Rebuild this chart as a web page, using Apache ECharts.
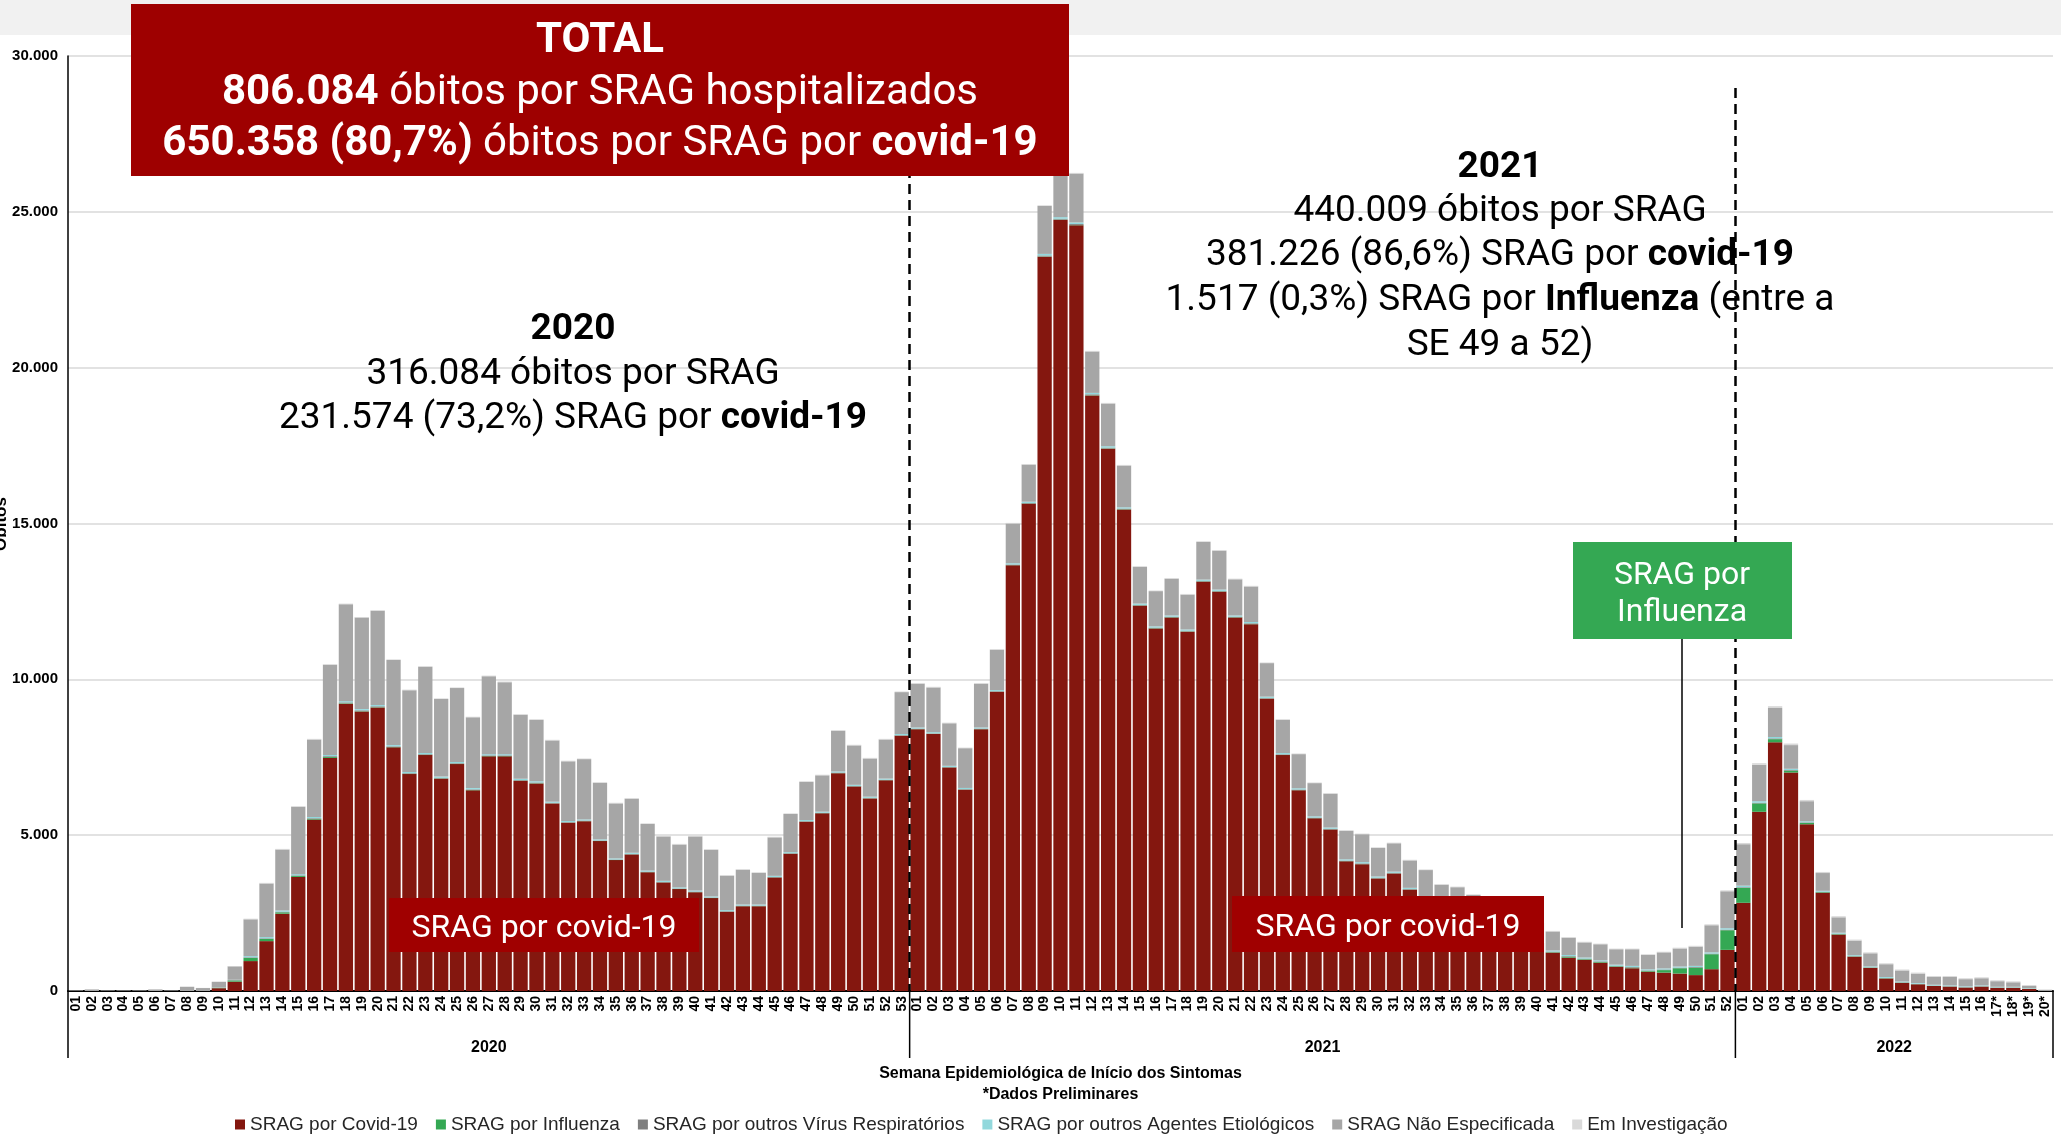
<!DOCTYPE html>
<html>
<head>
<meta charset="utf-8">
<script src="https://cdn.jsdelivr.net/npm/echarts@6/dist/echarts.min.js"></script>
<style>
  html, body { margin: 0; padding: 0; background: #fff; }
  #main { width: 2061px; height: 1139px; }
</style>
</head>
<body>
<div id="main"></div>
<script>
// semanas epidemiológicas 2020 (53), 2021 (52), 2022 (20)
var semanas2020 = ['01','02','03','04','05','06','07','08','09','10','11','12','13','14','15','16','17','18','19','20','21','22','23','24','25','26','27','28','29','30','31','32','33','34','35','36','37','38','39','40','41','42','43','44','45','46','47','48','49','50','51','52','53'];
var semanas2021 = ['01','02','03','04','05','06','07','08','09','10','11','12','13','14','15','16','17','18','19','20','21','22','23','24','25','26','27','28','29','30','31','32','33','34','35','36','37','38','39','40','41','42','43','44','45','46','47','48','49','50','51','52'];
var semanas2022 = ['01','02','03','04','05','06','07','08','09','10','11','12','13','14','15','16','17*','18*','19*','20*'];
var semanas = semanas2020.concat(semanas2021, semanas2022);

// óbitos SRAG por covid-19
var covid = [
    0,0,0,0,0,0,0,0,0,90, 300,960,1600,2480,3660,5500,7480,9220,8970,9100,
    7820,6960,7570,6810,7280,6440,7530,7530,6740,6660, 6020,5400,5450,4810,4200,4380,3810,3480,3270,3170,
    2980,2540,2720,2720,3640,4400,5430,5700,6990,6560, 6180,6760,8190,
    8400,8250,7170,6460,8400,9600,13660,15630,23560,24740, 24570,19110,17400,15450,12360,11630,11980,11530,13130,12810,
    11980,11770,9380,7570,6440,5540,5180,4160,4070,3610, 3770,3250,2950,2600,2500,2300,2150,2000,1800,1550,
    1230,1070,1000,910,770,730,620,590,560,510, 700,1320,
    2830,5750,7980,7010,5350,3150,1810,1100,740,400, 260,215,160,140,110,140,100,100,65,5
];
// total de óbitos por SRAG (topo da barra)
var total = [
    20,50,20,20,20,50,20,140,100,300, 800,2320,3470,4560,5930,8090,10490,12430,12000,12220,
    10640,9670,10420,9390,9740,8800,10120,9930,8880,8720, 8060,7390,7460,6700,6040,6190,5380,4980,4720,4980,
    4550,3720,3910,3810,4950,5700,6730,6940,8370,7900, 7480,8090,9610,
    9880,9760,8610,7810,9880,10970,15020,16910,25210,26400, 26250,20540,18870,16880,13630,12850,13250,12740,14430,14150,
    13230,13000,10540,8720,7620,6690,6350,5160,5050,4610, 4760,4210,3900,3430,3350,3100,2950,2700,2450,2200,
    1930,1730,1580,1520,1360,1360,1180,1260,1390,1450, 2140,3230,
    4750,7310,9140,7940,6130,3820,2400,1650,1240,890, 690,590,480,480,410,440,345,310,190,50
];
var influenza = [
    0,0,0,0,0,0,0,0,0,15, 40,100,70,45,30,25,30,15,10,10,
    10,10,10,10,10,10,10,10,10,10, 5,5,5,5,5,5,5,5,5,5,
    5,5,5,5,5,5,5,5,5,5, 5,5,5,
    5,5,5,5,5,5,5,10,10,10, 10,10,10,10,10,10,10,10,10,10,
    10,10,5,5,5,5,5,5,5,5, 5,5,5,5,5,5,5,5,10,10,
    15,30,20,20,20,20,20,80,170,240, 480,630,
    480,270,100,60,40,20,15,10,10,10, 10,5,5,5,5,5,5,5,5,0
];
var outrosVirus = [
    0,0,0,0,0,0,0,0,0,5, 10,20,20,20,20,20,25,25,25,25,
    20,20,20,20,20,20,20,20,20,20, 15,15,15,15,15,15,15,15,15,15,
    15,15,15,15,15,15,15,15,15,15, 15,15,15,
    15,15,15,15,15,15,20,20,30,30, 30,25,25,20,20,20,20,20,20,20,
    20,20,20,20,20,20,20,20,20,20, 20,20,20,20,20,20,20,20,20,20,
    20,20,20,20,20,20,20,20,20,20, 20,20,
    20,20,25,20,20,15,15,10,10,10, 10,10,10,10,10,10,10,10,5,0
];
var outrosAgentes = [
    0,0,0,0,0,0,0,0,0,5, 10,40,40,40,40,40,40,40,40,40,
    40,40,40,40,40,40,40,40,40,40, 35,35,35,35,35,35,35,35,35,35,
    35,35,35,35,35,35,35,35,35,35, 35,35,35,
    35,35,35,35,35,35,40,40,50,50, 50,45,45,40,40,40,40,40,40,40,
    40,40,40,40,40,40,40,40,40,40, 35,35,35,35,35,35,35,35,35,35,
    35,35,35,35,35,35,35,35,35,35, 40,45,
    50,50,45,40,35,30,30,30,30,30, 25,25,25,25,25,25,20,20,15,5
];
var emInvestigacao = [
    0,0,0,0,0,0,0,5,5,5, 10,20,20,20,20,20,20,20,20,20,
    20,20,20,20,20,20,20,20,20,20, 20,20,20,20,20,20,20,20,20,20,
    20,20,20,20,20,20,20,20,20,20, 20,20,20,
    20,20,20,20,20,20,20,20,20,20, 20,20,20,20,20,20,20,20,20,20,
    20,20,20,20,20,20,20,20,20,20, 20,20,20,20,20,20,20,20,20,20,
    20,20,20,20,20,20,20,20,25,25, 30,30,
    40,50,60,50,40,35,35,30,30,30, 30,30,30,30,30,30,30,30,30,40
];
// não especificada = resto até o topo lido da barra
var naoEspecificada = total.map(function (t, i) {
    var r = t - covid[i] - influenza[i] - outrosVirus[i] - outrosAgentes[i] - emInvestigacao[i];
    return r > 0 ? r : 0;
});
var anos = ['2020', '2021', '2022'];
var limitesAno = [0, 53, 105, 125];

var nomes = ['SRAG por Covid-19', 'SRAG por Influenza', 'SRAG por outros Vírus Respiratórios',
    'SRAG por outros Agentes Etiológicos', 'SRAG Não Especificada', 'Em Investigação'];
var cores = ['#84170f', '#34a853', '#7f7f7f', '#92d8dc', '#a6a6a6', '#d9d9d9'];
var series_data = [covid, influenza, outrosVirus, outrosAgentes, naoEspecificada, emInvestigacao];

var narrow = "'Liberation Sans Narrow', 'Liberation Sans', Arial, sans-serif";
var rob = "Roboto, 'Noto Sans', sans-serif";

function milhar(v) {
    return String(v).replace(/\B(?=(\d{3})+(?!\d))/g, '.');
}

var myChart = echarts.init(document.getElementById('main'));

var series = nomes.map(function (n, k) {
    return {
        name: n,
        type: 'bar',
        stack: 'obitos',
        barCategoryGap: '10%',
        itemStyle: { color: cores[k] },
        data: series_data[k]
    };
});
// linhas tracejadas de virada de ano
series.push({
    name: 'divisas',
    type: 'line',
    xAxisIndex: 1,
    yAxisIndex: 0,
    data: [],
    markLine: {
        silent: true,
        symbol: ['none', 'none'],
        label: { show: false },
        lineStyle: { type: [10, 6], color: '#000', width: 2.5 },
        data: [
            [{ coord: [53, 30000] }, { coord: [53, 0] }],
            [{ coord: [105, 28970] }, { coord: [105, 0] }]
        ]
    }
});

var option = {
    backgroundColor: '#fff',
    animation: false,
    grid: { left: 68, right: 8, top: 56, bottom: 148, outerBoundsMode: 'none', containLabel: false },
    legend: {
        data: nomes,
        left: 230,
        top: 1110,
        icon: 'rect',
        itemWidth: 10,
        itemHeight: 10,
        itemGap: 18,
        textStyle: { fontFamily: narrow, fontSize: 19, color: '#262626' }
    },
    xAxis: [{
        type: 'category',
        data: semanas,
        name: 'Semana Epidemiológica de Início dos Sintomas\n*Dados Preliminares',
        nameLocation: 'middle',
        nameGap: 72,
        nameMoveOverlap: false,
        nameTextStyle: { fontFamily: narrow, fontWeight: 'bold', fontSize: 16, color: '#000', lineHeight: 21 },
        axisLine: { lineStyle: { color: '#000', width: 2 } },
        axisTick: { show: false },
        axisLabel: {
            interval: 0,
            rotate: 90,
            margin: 5,
            fontFamily: 'Liberation Sans, Arial, sans-serif',
            fontWeight: 'bold',
            fontSize: 14,
            color: '#000'
        }
    }, {
        type: 'value',
        min: 0,
        max: 125,
        show: false
    }],
    yAxis: {
        type: 'value',
        min: 0,
        max: 30000,
        interval: 5000,
        axisLine: { show: true, lineStyle: { color: '#000', width: 1.5 } },
        axisTick: { show: false },
        splitLine: { lineStyle: { color: '#d9d9d9', width: 1.5 } },
        axisLabel: {
            margin: 10,
            fontFamily: narrow,
            fontWeight: 'bold',
            fontSize: 15,
            color: '#000',
            formatter: milhar
        }
    },
    series: series
};
myChart.setOption(option);

// anotações (caixas de texto)
function caixa(x, y, w, h, cor) {
    return { type: 'rect', z: 100, shape: { x: x, y: y, width: w, height: h }, style: { fill: cor } };
}
function texto(x, y, t, size, cor, extra) {
    var bold = { fontFamily: rob, fontWeight: 'bold', fontSize: size, fill: cor };
    var st = {
        text: t, x: x, y: y, fill: cor,
        fontFamily: rob, fontSize: size,
        align: 'center', textAlign: 'center',
        verticalAlign: 'middle', textVerticalAlign: 'middle',
        rich: { b: bold, n: { fontFamily: rob, fontSize: size, fill: cor } }
    };
    if (extra) { st.fontWeight = extra; }
    return { type: 'text', z: 101, style: st };
}

var g = [];
g.push({ type: 'rect', z: -1, shape: { x: 0, y: 0, width: 2061, height: 35 }, style: { fill: '#f1f1f1' } });

// nome do eixo y (cortado na borda, como no original)
g.push({
    type: 'text', z: 50, x: 1, y: 524, rotation: Math.PI / 2,
    style: {
        text: 'Óbitos', x: 0, y: 0,
        fontFamily: narrow, fontWeight: 'bold', fontSize: 17, fill: '#000',
        align: 'center', textAlign: 'center', verticalAlign: 'middle', textVerticalAlign: 'middle'
    }
});

// separadores de ano abaixo do eixo e rótulos de ano
var y0 = myChart.convertToPixel({ yAxisIndex: 0 }, 0);
var xs = limitesAno.map(function (v) { return myChart.convertToPixel({ xAxisIndex: 1 }, v); });
xs.forEach(function (x) {
    g.push({ type: 'line', z: 50, shape: { x1: x, y1: y0, x2: x, y2: y0 + 67 }, style: { stroke: '#000', lineWidth: 1.5 } });
});
anos.forEach(function (a, i) {
    g.push({
        type: 'text', z: 50,
        style: {
            text: a, x: (xs[i] + xs[i + 1]) / 2, y: y0 + 57,
            fontFamily: narrow, fontWeight: 'bold', fontSize: 16, fill: '#000',
            align: 'center', textAlign: 'center', verticalAlign: 'middle', textVerticalAlign: 'middle'
        }
    });
});

// caixa TOTAL
g.push(caixa(131, 4, 938, 172, '#9e0000'));
g.push(texto(600, 41, 'TOTAL', 42, '#fff', 'bold'));
g.push(texto(600, 93, '{b|806.084} óbitos por SRAG hospitalizados', 42, '#fff'));
g.push(texto(600, 144, '{b|650.358 (80,7%)} óbitos por SRAG por {b|covid-19}', 42, '#fff'));

// bloco 2020
g.push(texto(573, 330, '2020', 37, '#000', 'bold'));
g.push(texto(573, 375, '316.084 óbitos por SRAG', 37, '#000'));
g.push(texto(573, 419, '231.574 (73,2%) SRAG por {b|covid-19}', 37, '#000'));

// bloco 2021
g.push(texto(1500, 168, '2021', 37, '#000', 'bold'));
g.push(texto(1500, 212, '440.009 óbitos por SRAG', 37, '#000'));
g.push(texto(1500, 256, '381.226 (86,6%) SRAG por {b|covid-19}', 37, '#000'));
g.push(texto(1500, 301, '1.517 (0,3%) SRAG por {b|Influenza} (entre a', 37, '#000'));
g.push(texto(1500, 346, 'SE 49 a 52)', 37, '#000'));

// rótulos covid-19
g.push(caixa(389, 898, 310, 54, '#a00000'));
g.push(texto(544, 929, 'SRAG por covid-19', 32, '#fff'));
g.push(caixa(1232, 896, 312, 56, '#a00000'));
g.push(texto(1388, 928, 'SRAG por covid-19', 32, '#fff'));

// rótulo influenza
g.push({ type: 'line', z: 99, shape: { x1: 1682, y1: 639, x2: 1682, y2: 928 }, style: { stroke: '#000', lineWidth: 1.5 } });
g.push(caixa(1573, 542, 219, 97, '#34a853'));
g.push(texto(1682, 576, 'SRAG por', 32, '#fff'));
g.push(texto(1682, 613, 'Influenza', 32, '#fff'));

myChart.setOption({ graphic: { elements: g } });
</script>
</body>
</html>
